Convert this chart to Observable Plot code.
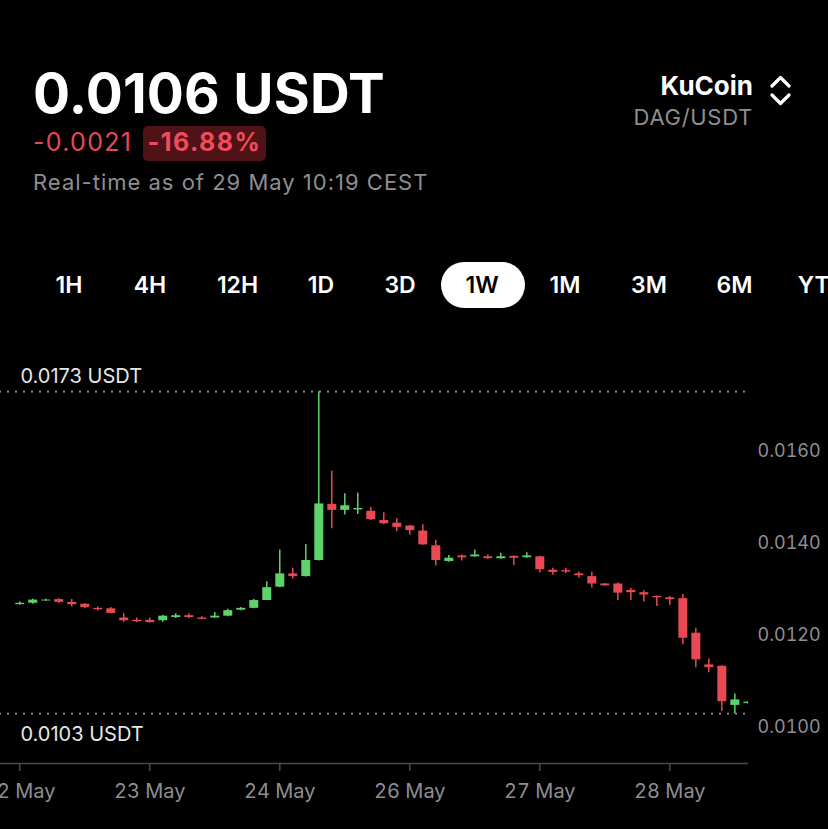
<!DOCTYPE html>
<html><head><meta charset="utf-8">
<script src="https://cdn.jsdelivr.net/npm/d3@7"></script>
<script src="https://cdn.jsdelivr.net/npm/@observablehq/plot@0.6"></script>
<style>
html,body{margin:0;padding:0;background:#000;width:828px;height:829px;overflow:hidden;font-family:Inter,"Open Sans",sans-serif;}
#head{position:relative;width:828px;height:350px;}
.abs{position:absolute;white-space:nowrap;line-height:1;}
.tab{position:absolute;width:100px;text-align:center;white-space:nowrap;line-height:1;font-size:23px;font-weight:600;color:#fff;top:274px;}
#chart svg{display:block;}
</style></head><body>
<div id="head">
  <div class="abs" style="left:33px;top:66px;font-size:55px;font-weight:700;color:#fff;letter-spacing:0.2px">0.0106 USDT</div>
  <div class="abs" style="left:33px;top:130px;font-size:25px;letter-spacing:1.3px;color:#e8475a">-0.0021</div>
  <div class="abs" style="left:143px;top:126px;width:123px;height:35px;background:#4f1217;border-radius:5px"></div>
  <div class="abs" style="left:143px;top:130px;width:123px;text-align:center;font-size:25px;font-weight:700;letter-spacing:1.5px;color:#ef4c5d">-16.88%</div>
  <div class="abs" style="left:33px;top:171px;font-size:22px;letter-spacing:1px;color:#8e8e93">Real-time as of 29 May 10:19 CEST</div>
  <div class="abs" style="right:75px;top:72.5px;font-size:26px;font-weight:700;color:#fff">KuCoin</div>
  <div class="abs" style="right:75px;top:106px;font-size:22px;letter-spacing:0.7px;color:#8e8e93">DAG/USDT</div>
  <svg class="abs" style="left:770px;top:75px" width="22" height="32" viewBox="0 0 22 32">
    <path d="M2,11 L10.5,2.5 L19,11" fill="none" stroke="#fff" stroke-width="3.2" stroke-linecap="round" stroke-linejoin="round"/>
    <path d="M2,20 L10.5,28.5 L19,20" fill="none" stroke="#fff" stroke-width="3.2" stroke-linecap="round" stroke-linejoin="round"/>
  </svg>
  <div class="abs" style="left:441px;top:262px;width:84px;height:46px;background:#fff;border-radius:23px"></div>
  <div id="tabs"></div>
</div>
<div id="chart"></div>
<script>
// ---- data ----
const tabLabels = ["1H","4H","12H","1D","3D","1W","1M","3M","6M","YTD"];
const tickIdx = [0, 10, 20, 30, 40, 50];
const tickLabels = ["22 May","23 May","24 May","26 May","27 May","28 May"];
const yTicks = [0.0100, 0.0120, 0.0140, 0.0160];

const open  = [0.01267,0.01270,0.01275,0.01278,0.01272,0.01268,0.01259,0.01258,0.01238,0.01233,
               0.01233,0.01232,0.01239,0.01243,0.01238,0.01238,0.01242,0.01255,0.01259,0.01276,
               0.01305,0.01334,0.01328,0.01363,0.01485,0.01472,0.01473,0.01470,0.01450,0.01444,
               0.01438,0.01427,0.01395,0.01361,0.01373,0.01371,0.01371,0.01367,0.01372,0.01369,
               0.01371,0.01342,0.01341,0.01334,0.01328,0.01312,0.01312,0.01298,0.01293,0.01285,
               0.01282,0.01280,0.01205,0.01136,0.01133,0.01048,0.01052];
const high  = [0.01273,0.01279,0.01279,0.01280,0.01278,0.01269,0.01262,0.01261,0.01247,0.01238,
               0.01238,0.01244,0.01247,0.01247,0.01241,0.01250,0.01257,0.01261,0.01278,0.01317,
               0.01386,0.01346,0.01398,0.01730,0.01557,0.01508,0.01509,0.01478,0.01467,0.01454,
               0.01439,0.01441,0.01407,0.01374,0.01375,0.01386,0.01375,0.01379,0.01373,0.01380,
               0.01372,0.01346,0.01346,0.01338,0.01338,0.01313,0.01314,0.01302,0.01297,0.01286,
               0.01285,0.01289,0.01216,0.01149,0.01135,0.01073,0.01056];
const low   = [0.01266,0.01268,0.01274,0.01270,0.01262,0.01258,0.01253,0.01247,0.01229,0.01228,
               0.01227,0.01229,0.01237,0.01237,0.01234,0.01238,0.01241,0.01254,0.01258,0.01276,
               0.01304,0.01322,0.01327,0.01362,0.01432,0.01462,0.01463,0.01450,0.01441,0.01426,
               0.01418,0.01396,0.01351,0.01359,0.01362,0.01370,0.01366,0.01366,0.01352,0.01368,
               0.01336,0.01331,0.01334,0.01325,0.01303,0.01307,0.01276,0.01276,0.01273,0.01263,
               0.01265,0.01180,0.01130,0.01119,0.01035,0.01030,0.01051];
const close = [0.01270,0.01277,0.01277,0.01272,0.01267,0.01261,0.01256,0.01248,0.01232,0.01230,
               0.01228,0.01242,0.01243,0.01239,0.01235,0.01242,0.01254,0.01259,0.01276,0.01304,
               0.01334,0.01328,0.01363,0.01486,0.01472,0.01482,0.01476,0.01452,0.01443,0.01435,
               0.01428,0.01397,0.01363,0.01368,0.01369,0.01375,0.01367,0.01371,0.01368,0.01373,
               0.01343,0.01337,0.01338,0.01330,0.01312,0.01308,0.01292,0.01293,0.01288,0.01282,
               0.01278,0.01194,0.01147,0.01130,0.01056,0.01060,0.01055];

// ---- header tabs ----
const tabCenters = [69, 150, 237.5, 321, 400, 482, 565, 649, 734.5, 822];
const tabsEl = document.getElementById("tabs");
tabLabels.forEach((t, k) => {
  const d = document.createElement("div");
  d.className = "tab";
  d.style.left = (tabCenters[k] - 50) + "px";
  if (t === "1W") d.style.color = "#000";
  d.textContent = t;
  tabsEl.appendChild(d);
});

// ---- chart ----
const GREEN = "#5fd36b", RED = "#e84a55";
const candles = open.map((o, i) => ({i, o, h: high[i], l: low[i], c: close[i]}));
const hiVal = d3.max(high), loVal = d3.min(low);
const yDomain = [0.009217, 0.0175];
const xDomain = [-1.48, 56.05];
const col = d => d.c >= d.o ? GREEN : RED;

const chart = Plot.plot({
  width: 828, height: 479,
  marginLeft: 0, marginRight: 80, marginTop: 32, marginBottom: 66,
  style: {background: "#000", color: "#8e8e93", fontFamily: "Inter, sans-serif", fontSize: "19px", overflow: "visible"},
  x: {domain: xDomain, axis: null},
  y: {domain: yDomain, axis: null},
  marks: [
    Plot.ruleY([hiVal, loVal], {stroke: "#8a8a8a", strokeWidth: 2.2, strokeDasharray: "0 8", strokeLinecap: "round"}),
    Plot.ruleY([yDomain[0]], {stroke: "#4a4a4a", strokeWidth: 1.5}),
    Plot.axisX(tickIdx, {tickSize: 8, tickPadding: 12, stroke: "#4a4a4a", strokeWidth: 1.5, fill: "#8e8e93", fontSize: 20,
      tickFormat: d => tickLabels[tickIdx.indexOf(d)], label: null}),
    Plot.axisY(yTicks, {anchor: "right", tickSize: 0, tickPadding: 9, fill: "#8e8e93", fontSize: 18,
      tickFormat: d => d.toFixed(4), label: null}),
    Plot.ruleX(candles, {x: "i", y1: "l", y2: "h", stroke: col, strokeWidth: 1.5, clip: true}),
    Plot.ruleX(candles, {x: "i", y1: "o", y2: "c", stroke: col, strokeWidth: 9, clip: true}),
    Plot.text([hiVal], {y: d => d, frameAnchor: "left", dx: 20, dy: -15, text: d => d.toFixed(4) + " USDT",
      textAnchor: "start", fill: "#e6e6e6", fontSize: 20}),
    Plot.text([loVal], {y: d => d, frameAnchor: "left", dx: 20, dy: 21, text: d => d.toFixed(4) + " USDT",
      textAnchor: "start", fill: "#e6e6e6", fontSize: 20})
  ]
});
document.getElementById("chart").appendChild(chart);
</script>
</body></html>
